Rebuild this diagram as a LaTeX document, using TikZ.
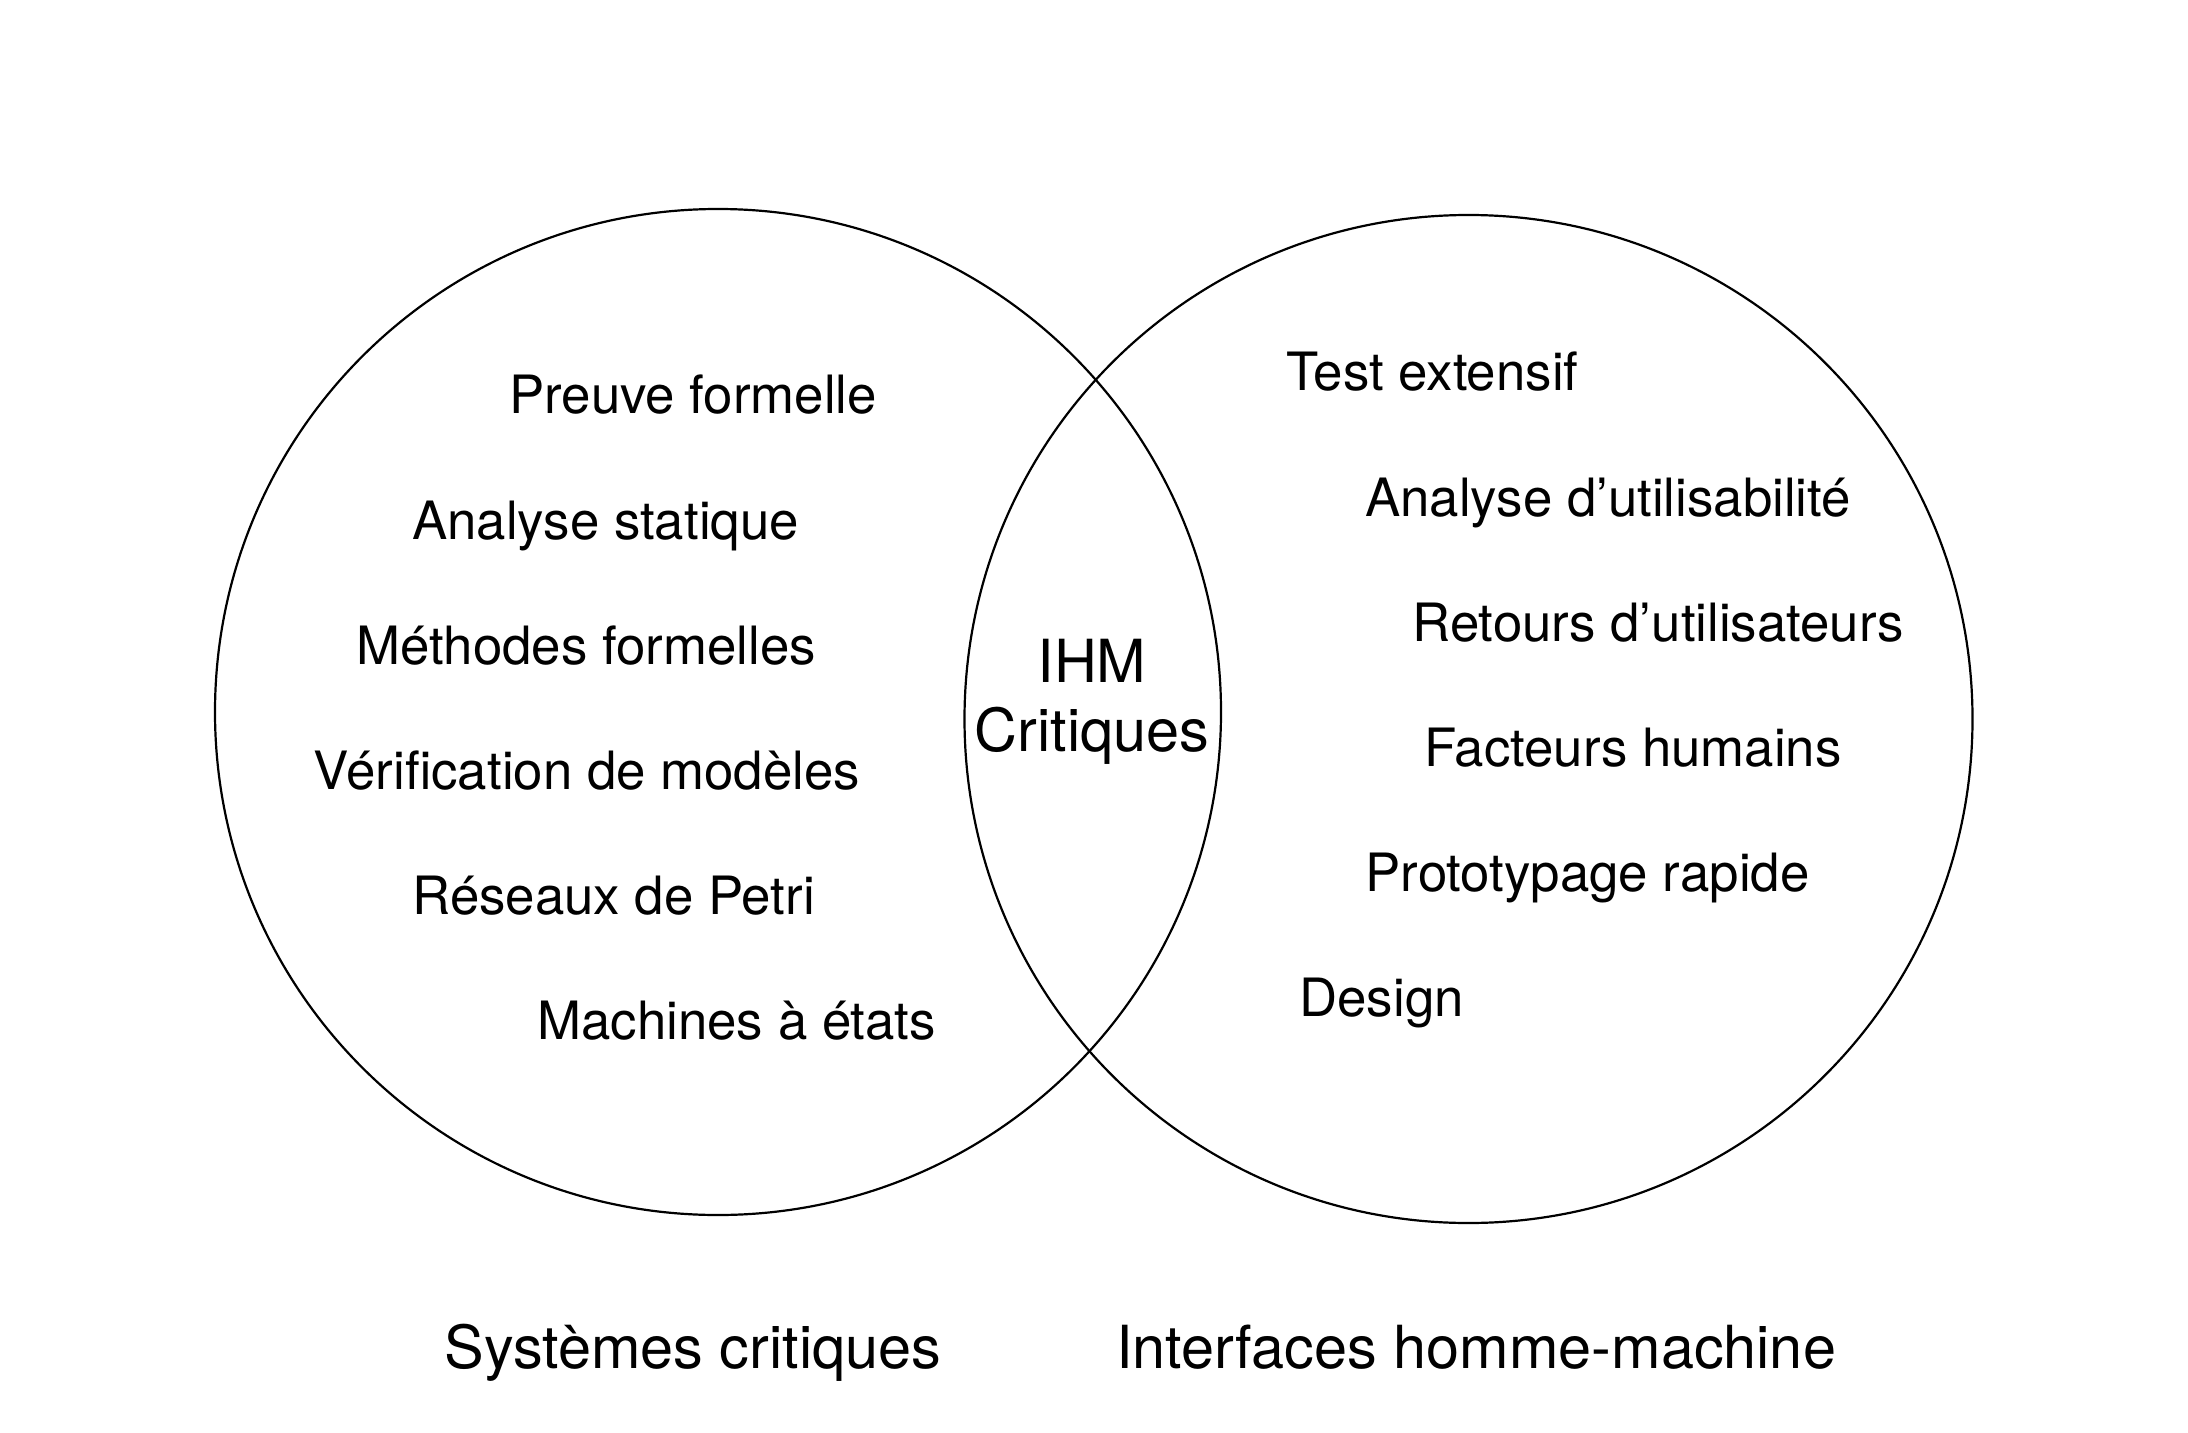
\documentclass[tikz,border=0pt]{standalone}
\usepackage{fontspec}
\setmainfont{TeX Gyre Heros}
\begin{document}
\begin{tikzpicture}[x=0.5pt,y=-0.5pt,
  venn/.style={circle,draw,line width=1.1pt,inner sep=0pt},
  item/.style={anchor=base west,inner sep=0pt,font=\fontsize{26.4}{31}\selectfont},
  biglab/.style={anchor=base west,inner sep=0pt,font=\fontsize{29.7}{35}\selectfont},
]
\useasboundingbox (0,0) rectangle (2188,1433);
\node[venn,minimum size=503pt] (L) at (718,712) {};
\node[venn,minimum size=504pt] (R) at (1468.5,719) {};
% left items
\node[item] (l1) at (509,414) {Preuve formelle};
\node[item] (l2) at (412,539) {Analyse statique};
\node[item] (l3) at (356,664) {Méthodes formelles};
\node[item] (l4) at (313,789) {Vérification de modèles};
\node[item] (l5) at (412,914) {Réseaux de Petri};
\node[item] (l6) at (537,1039) {Machines à états};
% right items
\node[item] (r1) at (1286,391) {Test extensif};
\node[item] (r2) at (1365,516) {Analyse d’utilisabilité};
\node[item] (r3) at (1412,641) {Retours d’utilisateurs};
\node[item] (r4) at (1424,766) {Facteurs humains};
\node[item] (r5) at (1365,891) {Prototypage rapide};
\node[item] (r6) at (1299,1016) {Design};
% intersection
\node[biglab,anchor=base] (ihm1) at (1092,682) {IHM};
\node[biglab,anchor=base] (ihm2) at (1092,751) {Critiques};
% bottom labels
\node[biglab] (bl) at (444,1368) {Systèmes critiques};
\node[biglab] (br) at (1116,1368) {Interfaces homme-machine};
\end{tikzpicture}
\end{document}
